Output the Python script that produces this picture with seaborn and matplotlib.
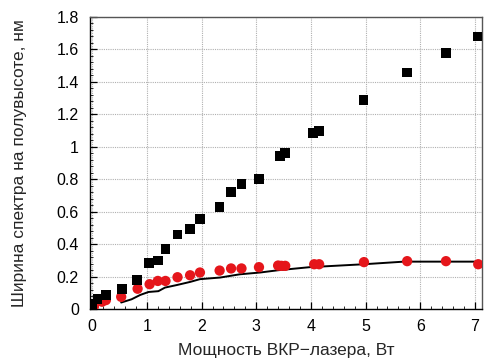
import numpy as np
import pandas as pd
import seaborn as sns
import matplotlib
matplotlib.use("Agg")
import matplotlib.pyplot as plt
from matplotlib.ticker import MultipleLocator, FuncFormatter

# black squares
sq_x = [0.0, 0.10, 0.25, 0.54, 0.82, 1.04, 1.20, 1.34, 1.56, 1.79, 1.97, 2.33, 2.54, 2.73,
        3.05, 3.44, 3.53, 4.04, 4.15, 4.96, 5.76, 6.47, 7.06]
sq_y = [0.03, 0.06, 0.085, 0.125, 0.18, 0.285, 0.30, 0.37, 0.46, 0.495, 0.555, 0.63, 0.72, 0.77,
        0.80, 0.945, 0.963, 1.085, 1.097, 1.29, 1.457, 1.577, 1.68]

# red circles
ci_x = [-0.03, 0.03, 0.10, 0.18, 0.25, 0.53, 0.83, 1.05, 1.20, 1.34, 1.56, 1.79, 1.97, 2.33,
        2.54, 2.73, 3.05, 3.40, 3.46, 3.53, 4.06, 4.15, 4.97, 5.76, 6.47, 7.06]
ci_y = [0.005, 0.015, 0.05, 0.045, 0.055, 0.075, 0.125, 0.153, 0.173, 0.173, 0.196, 0.208, 0.225,
        0.237, 0.25, 0.25, 0.258, 0.268, 0.266, 0.266, 0.276, 0.276, 0.289, 0.295, 0.295, 0.276]

# black line
ln_x = [0.53, 0.72, 0.88, 1.03, 1.21, 1.33, 1.55, 1.79, 1.97, 2.34, 2.70, 3.07, 3.40, 3.98,
        4.97, 5.70, 7.10]
ln_y = [0.04, 0.06, 0.087, 0.105, 0.11, 0.132, 0.148, 0.167, 0.184, 0.194, 0.214, 0.225, 0.239,
        0.258, 0.276, 0.292, 0.292]

x_ticks = [0, 1, 2, 3, 4, 5, 6, 7]
y_ticks = [0, 0.2, 0.4, 0.6, 0.8, 1.0, 1.2, 1.4, 1.6, 1.8]
x_label = "Мощность ВКР−лазера, Вт"
y_label = "Ширина спектра на полувысоте, нм"

sns.set_style("white")
plt.rcParams['font.family'] = ['Liberation Sans', 'DejaVu Sans']

fig = plt.figure(figsize=(4.84, 3.61), dpi=100)
ax = fig.add_axes([0.186, 0.144, 0.81, 0.809])

df_sq = pd.DataFrame({"x": sq_x, "y": sq_y})
df_ci = pd.DataFrame({"x": ci_x, "y": ci_y})
df_ln = pd.DataFrame({"x": ln_x, "y": ln_y})

sns.lineplot(data=df_ln, x="x", y="y", ax=ax, color="black", linewidth=1.4, zorder=3)
sns.scatterplot(data=df_ci, x="x", y="y", ax=ax, color="#e5161b", marker="o", s=55,
                edgecolor="none", zorder=4, clip_on=True)
sns.scatterplot(data=df_sq, x="x", y="y", ax=ax, color="black", marker="s", s=48,
                edgecolor="none", zorder=5)

ax.set_xlim(-0.04, 7.13)
ax.set_ylim(0, 1.8)
ax.set_xticks(x_ticks)
ax.set_yticks(y_ticks)
ax.xaxis.set_minor_locator(MultipleLocator(0.2))
ax.yaxis.set_minor_locator(MultipleLocator(0.04))
fmt = FuncFormatter(lambda v, p: ("%g" % v))
ax.xaxis.set_major_formatter(fmt)
ax.yaxis.set_major_formatter(fmt)

ax.grid(True, which="major", color="#b0b0b0", linestyle=(0, (1, 1)), linewidth=0.8)
ax.tick_params(which="major", direction="in", length=5, width=0.9, labelsize=11.5,
               colors="black", bottom=True, left=True)
ax.tick_params(axis="y", which="major", pad=8)
ax.tick_params(axis="x", which="major", pad=7)
ax.tick_params(which="minor", direction="in", length=2.5, width=0.7, bottom=True, left=True)
ax.tick_params(axis="y", which="both", right=False)
ax.tick_params(axis="x", which="both", top=False)

for s in ["left", "bottom"]:
    ax.spines[s].set_color("black")
    ax.spines[s].set_linewidth(1.0)
for s in ["top", "right"]:
    ax.spines[s].set_color("#555555")
    ax.spines[s].set_linewidth(1.0)

ax.set_xlabel(x_label, fontsize=12.5, labelpad=7)
ax.set_ylabel(y_label, fontsize=12.5, labelpad=21)

fig.savefig("out.png", dpi=100)
